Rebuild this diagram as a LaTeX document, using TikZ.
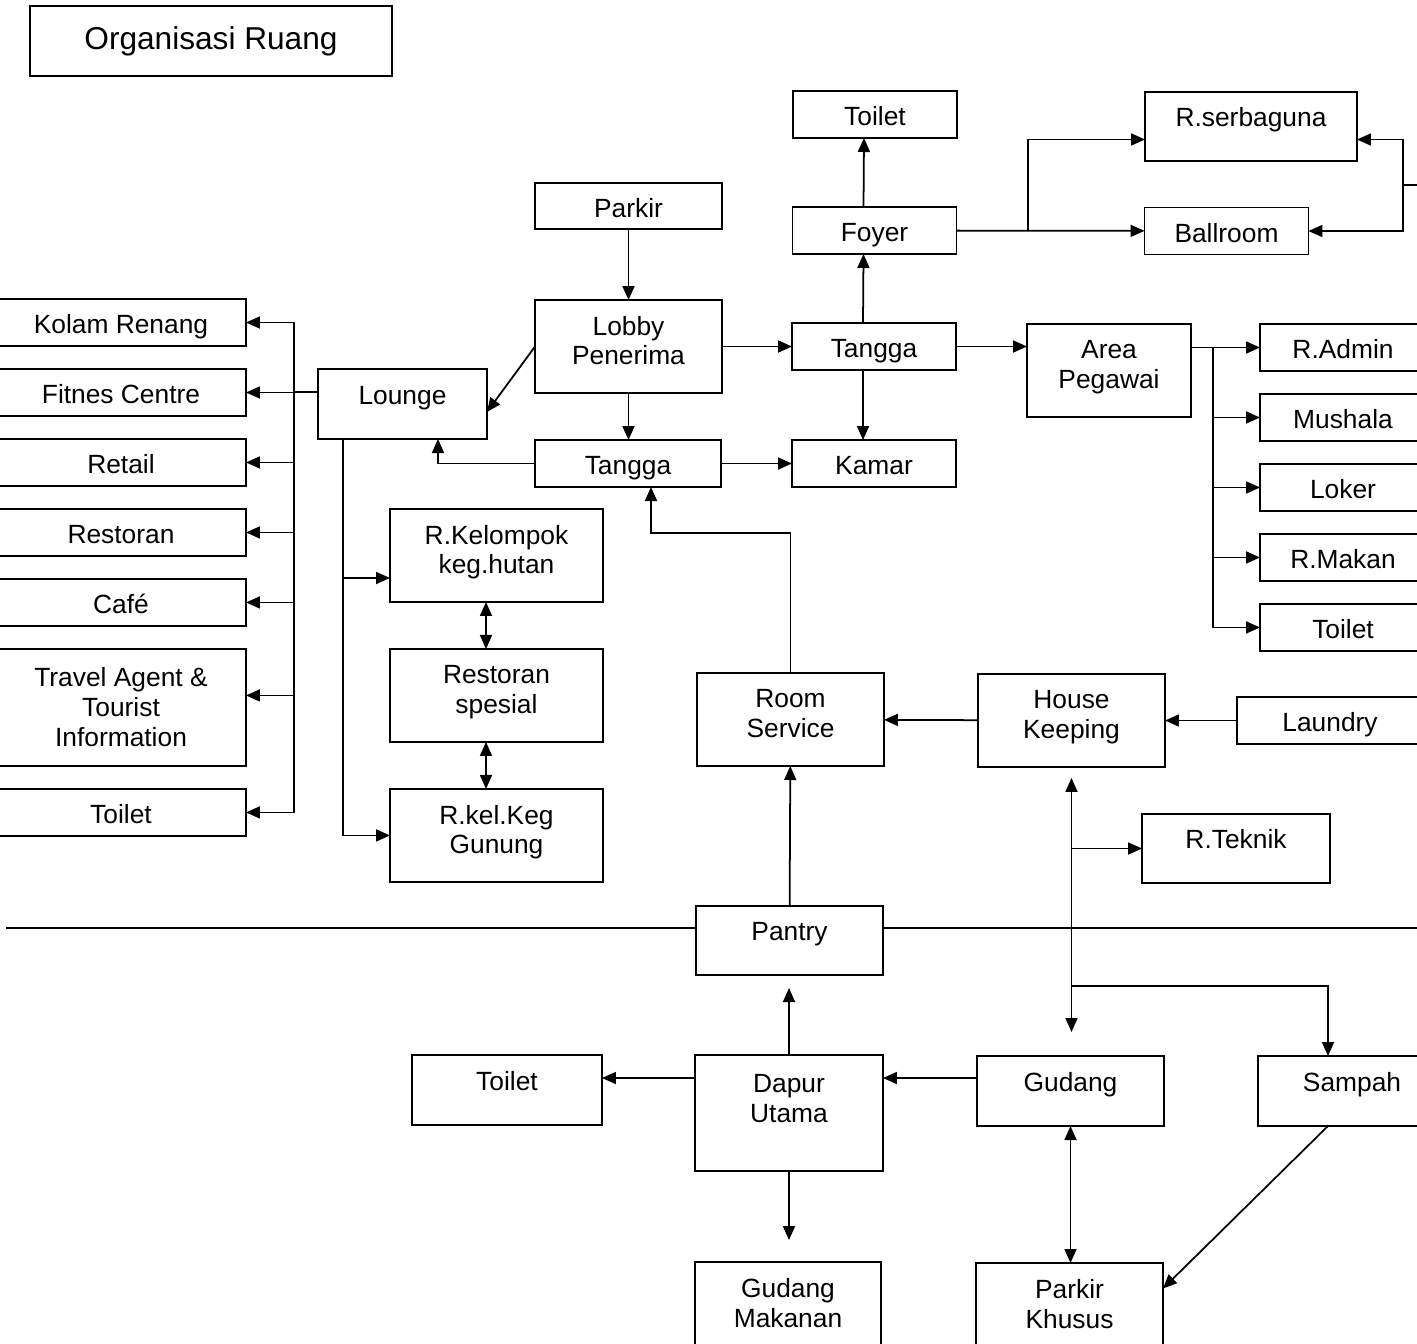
\documentclass[tikz,border=0pt]{standalone}
\usepackage{fontspec}
\setmainfont{Liberation Sans}
\usetikzlibrary{positioning, arrows.meta}
\newcommand{\bawah}{\rule[-0.24cm]{0pt}{0pt}}

\begin{document}
\begin{tikzpicture}[x=0.02cm, y=0.02cm, line width=1pt]
    \tikzstyle{ruang}=[
        draw = black,
        rectangle,
        inner sep = 0pt,
        outer sep = 0pt,
        align = center,
        font = \fontsize{15pt}{17pt}\selectfont
    ]
    \tikzstyle{satu}=[text height=0.5cm, text depth=0.06cm]
    \tikzstyle{atas}=[text height=0.4cm, text depth=0.4cm]
    \tikzstyle{panah}=[-{Triangle[length=0.28cm, width=0.24cm]}]
    \tikzstyle{dua}=[{Triangle[length=0.28cm, width=0.24cm]}-{Triangle[length=0.28cm, width=0.24cm]}]
    \useasboundingbox (0,0) rectangle (1417,-1343);
    \clip (0,0) rectangle (1417,-1343);

    \node[ruang, minimum width=7.24cm, minimum height=1.4cm,
          font=\fontsize{18pt}{21pt}\selectfont] (judul) at (211,-41) {Organisasi Ruang};

    % bagian atas
    \begin{scope}[every node/.style={ruang, satu, minimum width=3.28cm, minimum height=0.94cm}]
      \node (toiletA) at (875,-114.5) {Toilet};
      \node (foyer) at (874.5,-230.5) {Foyer};
      \node (tanggaA) at (874,-346.5) {Tangga};
      \node (kamar) at (874,-463.5) {Kamar};
      \node (ballroom) at (1226.5,-231) {Ballroom};
    \end{scope}
    \node[ruang, atas, minimum width=4.24cm, minimum height=1.38cm] (serbaguna) at (1251,-126.5) {R.serbaguna};
    \node[ruang, satu, minimum width=3.74cm, minimum height=0.92cm] (parkir) at (628.5,-206) {Parkir};
    \node[ruang, minimum width=3.74cm, minimum height=1.86cm] (lobby) at (628.5,-346.5) {Lobby\\Penerima\bawah};
    \node[ruang, satu, minimum width=3.72cm, minimum height=0.94cm] (tanggaB) at (628,-463.5) {Tangga};
    \node[ruang, minimum width=3.28cm, minimum height=1.86cm] (pegawai) at (1109,-370.5) {Area\\Pegawai\bawah};
    \node[ruang, atas, minimum width=3.38cm, minimum height=1.4cm] (lounge) at (402.5,-404) {Lounge};

    % area pegawai
    \begin{scope}[node distance=0.46cm, every node/.style={ruang, satu, minimum width=3.32cm, minimum height=0.94cm}]
      \node (admin) at (1343,-347.5) {R.Admin};
      \node (mushala) [below=of admin] {Mushala};
      \node (loker) [below=of mushala] {Loker};
      \node (makan) [below=of loker] {R.Makan};
      \node (toiletC) [below=of makan] {Toilet};
    \end{scope}

    % fasilitas lounge
    \begin{scope}[node distance=0.46cm, every node/.style={ruang, satu, minimum width=5cm, minimum height=0.94cm}]
      \node (kolam) at (121,-322.5) {Kolam Renang};
      \node (fitnes) [below=of kolam] {Fitnes Centre};
      \node (retail) [below=of fitnes] {Retail};
      \node (restoran) [below=of retail] {Restoran};
      \node (cafe) [below=of restoran] {Café};
    \end{scope}
    \node[ruang, minimum width=5cm, minimum height=2.34cm, below=0.46cm of cafe] (travel) {Travel Agent \&\\Tourist\\Information};
    \node[ruang, satu, minimum width=5cm, minimum height=0.94cm, below=0.46cm of travel] (toiletL) {Toilet};

    \begin{scope}[node distance=0.94cm, every node/.style={ruang, minimum width=4.26cm, minimum height=1.86cm}]
      \node (kelompok) at (496.5,-555.5) {R.Kelompok\\keg.hutan\bawah};
      \node (spesial) [below=of kelompok] {Restoran\\spesial\bawah};
      \node (gunung) [below=of spesial] {R.kel.Keg\\Gunung\bawah};
    \end{scope}

    % servis
    \node[ruang, minimum width=3.74cm, minimum height=1.86cm] (roomservice) at (790.5,-719.5) {Room\\Service\bawah};
    \node[ruang, minimum width=3.74cm, minimum height=1.86cm] (housekeeping) at (1071.5,-720.5) {House\\Keeping\bawah};
    \node[ruang, satu, minimum width=3.72cm, minimum height=0.94cm] (laundry) at (1330,-720.5) {Laundry};
    \node[ruang, atas, minimum width=3.76cm, minimum height=1.38cm] (teknik) at (1236,-848.5) {R.Teknik};
    \node[ruang, atas, minimum width=3.74cm, minimum height=1.38cm] (pantry) at (789.5,-940.5) {Pantry};
    \node[ruang, minimum width=3.76cm, minimum height=2.32cm] (dapur) at (789,-1113) {Dapur\\Utama\\\mbox{}};
    \node[ruang, atas, minimum width=3.8cm, minimum height=1.4cm] (toiletB) at (507,-1090) {Toilet};
    \node[ruang, atas, minimum width=3.74cm, minimum height=1.4cm] (gudang) at (1070.5,-1091) {Gudang};
    \node[ruang, atas, minimum width=3.76cm, minimum height=1.4cm] (sampah) at (1352,-1091) {Sampah};
    \node[ruang, minimum width=3.72cm, minimum height=1.86cm] (gudangmakanan) at (788,-1308.5) {Gudang\\Makanan\bawah};
    \node[ruang, minimum width=3.74cm, minimum height=1.86cm] (parkirkhusus) at (1069.5,-1309.5) {Parkir\\Khusus\bawah};

    \coordinate (simpulKanan) at (1403,-185);
    \coordinate (luarKanan) at (1430,-185);
    \coordinate (cabangFoyer) at (1028,-231);
    \coordinate (busPegawai) at (1213,-348);
    \coordinate (busLounge) at (294,-392);
    \coordinate (turunLounge) at (343,-439);
    \coordinate (belokService) at (790.5,-533);
    \coordinate (batasKiri) at (6,-928);
    \coordinate (batasKanan) at (1430,-928);
    \coordinate (cabangSampah) at (1071,-986);
    \coordinate (jalurDapur) at (0,-1078);

    \path[panah] (parkir) edge (lobby)
             (lobby) edge (tanggaA)
             (lobby.south) edge (lobby.south |- tanggaB.north)
             (lobby.west) edge ([yshift=-0.16cm]lounge.east)
             (tanggaB) edge (kamar)
             ([xshift=-0.22cm]tanggaA.north) edge ([xshift=-0.22cm]foyer.south)
             ([xshift=-0.22cm]foyer.north) edge ([xshift=-0.22cm]toiletA.south)
             ([xshift=-0.22cm]tanggaA.south) edge ([xshift=-0.22cm]kamar.north)
             (foyer) edge (ballroom)
             (tanggaA.east) edge (tanggaA.east -| pegawai.west)
             (admin.west -| pegawai.east) edge (admin.west)
             (laundry) edge (housekeeping)
             (housekeeping) edge (roomservice)
             (pantry) edge (roomservice)
             (housekeeping.south |- teknik.west) edge (teknik.west)
             (gudang.west |- jalurDapur) edge (dapur.east |- jalurDapur)
             (dapur.west |- jalurDapur) edge (toiletB.east |- jalurDapur)
             ([xshift=-0.48cm]sampah.south) edge ([yshift=0.42cm]parkirkhusus.east);

    \draw[panah] (cabangFoyer) |- ([yshift=-0.26cm]serbaguna.west);
    \draw[panah] (luarKanan) -- (simpulKanan) |- ([yshift=-0.26cm]serbaguna.east);
    \draw[panah] (simpulKanan) |- (ballroom.east);
    \foreach \r in {mushala, loker, makan, toiletC}
      \draw[panah] (busPegawai) |- (\r.west);

    \draw (lounge.west |- busLounge) -- (busLounge);
    \foreach \r in {kolam, fitnes, retail, restoran, cafe, toiletL}
      \draw[panah] (busLounge) |- (\r.east);
    \draw[panah] (busLounge) |- ([yshift=0.24cm]travel.east);
    \draw[panah] (turunLounge) |- ([yshift=-0.45cm]kelompok.west);
    \draw[panah] (turunLounge) |- (gunung.west);
    \draw[dua] ([xshift=-0.21cm]kelompok.south) -- ([xshift=-0.21cm]spesial.north);
    \draw[dua] ([xshift=-0.21cm]spesial.south) -- ([xshift=-0.21cm]gunung.north);
    \draw[panah] (tanggaB) -| ([xshift=0.71cm]lounge.south);
    \draw[panah] (roomservice.north) -- (belokService) -| ([xshift=0.46cm]tanggaB.south);

    \draw (batasKiri) -- (batasKiri -| pantry.west);
    \draw (pantry.east |- batasKanan) -- (batasKanan);
    \draw[dua, shorten <=0.22cm, shorten >=0.48cm] (housekeeping.south) -- (housekeeping.south |- gudang.north);
    \draw[panah] (cabangSampah) -| ([xshift=-0.48cm]sampah.north);
    \draw[panah, shorten >=0.26cm] (dapur.north) -- (dapur.north |- pantry.south);
    \draw[panah, shorten >=0.44cm] (dapur.south) -- (dapur.south |- gudangmakanan.north);
    \draw[dua] (gudang.south) -- (gudang.south |- parkirkhusus.north);
\end{tikzpicture}
\end{document}
